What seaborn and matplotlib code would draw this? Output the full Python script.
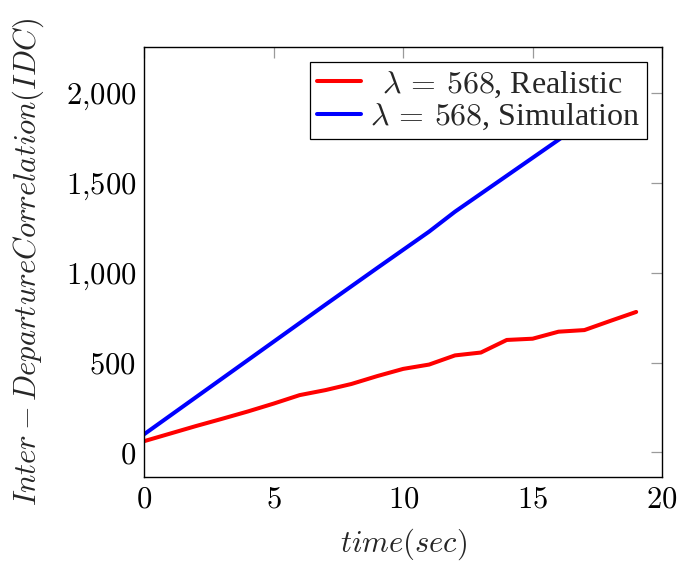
import numpy as np
import pandas as pd
import seaborn as sns
import matplotlib.pyplot as plt
from matplotlib.ticker import FixedLocator, FixedFormatter

# Measured inter-departure correlation over time
time_sec = list(range(20))
realistic = [63, 105, 147, 187, 228, 272, 319, 347, 381, 425,
             465, 489, 540, 556, 626, 633, 672, 681, 732, 782]
simulation = [102, 205, 308, 411, 514, 617, 720, 823, 925, 1027,
              1128, 1229, 1340, 1440, 1540, 1640, 1740, 1843, 1945, 2048]
series_labels = [r"$\hspace{0.43}\lambda\,=\,568$, Realistic",
                 r"$\lambda\,=\,568$, Simulation"]
series_colors = ["#ff0000", "#0000ff"]

x_ticks = [0, 5, 10, 15, 20]
x_ticklabels = [r"$0$", r"$5$", r"$10$", r"$15$", r"$20$"]
y_ticks = [0, 500, 1000, 1500, 2000]
y_ticklabels = [r"$0$", r"$500$", r"$1{,}000$", r"$1{,}500$", r"$2{,}000$"]

df = pd.DataFrame({
    "time": time_sec * 2,
    "value": realistic + simulation,
    "series": [series_labels[0]] * len(time_sec) + [series_labels[1]] * len(time_sec),
})

sns.set_theme(style="white")
plt.rcParams["mathtext.fontset"] = "cm"
plt.rcParams["font.family"] = ["Liberation Serif", "DejaVu Serif"]

FS = 22
LEG_FS = 23

fig = plt.figure(figsize=(6.94, 5.61), dpi=100)
ax = fig.add_axes([0.208, 0.150, 0.746, 0.766])

sns.lineplot(data=df, x="time", y="value", hue="series", hue_order=series_labels,
             palette=series_colors, linewidth=2.9, ax=ax, legend=True)

ax.set_xlim(0, 20)
ax.set_ylim(-136, 2256)
ax.xaxis.set_major_locator(FixedLocator(x_ticks))
ax.xaxis.set_major_formatter(FixedFormatter(x_ticklabels))
ax.yaxis.set_major_locator(FixedLocator(y_ticks))
ax.yaxis.set_major_formatter(FixedFormatter(y_ticklabels))

ax.tick_params(axis="both", which="major", direction="in", length=7.8, width=0.9,
               color="#9a9a9a", labelcolor="black", labelsize=FS,
               top=True, right=True, pad=6)

for sp in ax.spines.values():
    sp.set_color("black")
    sp.set_linewidth(1.0)

ax.set_xlabel(r"$time(sec)$", fontsize=FS, labelpad=9)
ax.set_ylabel(r"$Inter - DepartureCorrelation(IDC)$", fontsize=FS, labelpad=14)

leg = ax.legend(loc="upper right", bbox_to_anchor=(0.9705, 0.965), borderaxespad=0,
                fontsize=LEG_FS, frameon=True, fancybox=False, framealpha=1,
                edgecolor="black", handlelength=1.38, handletextpad=0.28,
                labelspacing=0.08, borderpad=0.22)
leg.get_frame().set_linewidth(0.9)
for line in leg.get_lines():
    line.set_linewidth(2.9)

fig.savefig("out.png", dpi=100, facecolor="white")
